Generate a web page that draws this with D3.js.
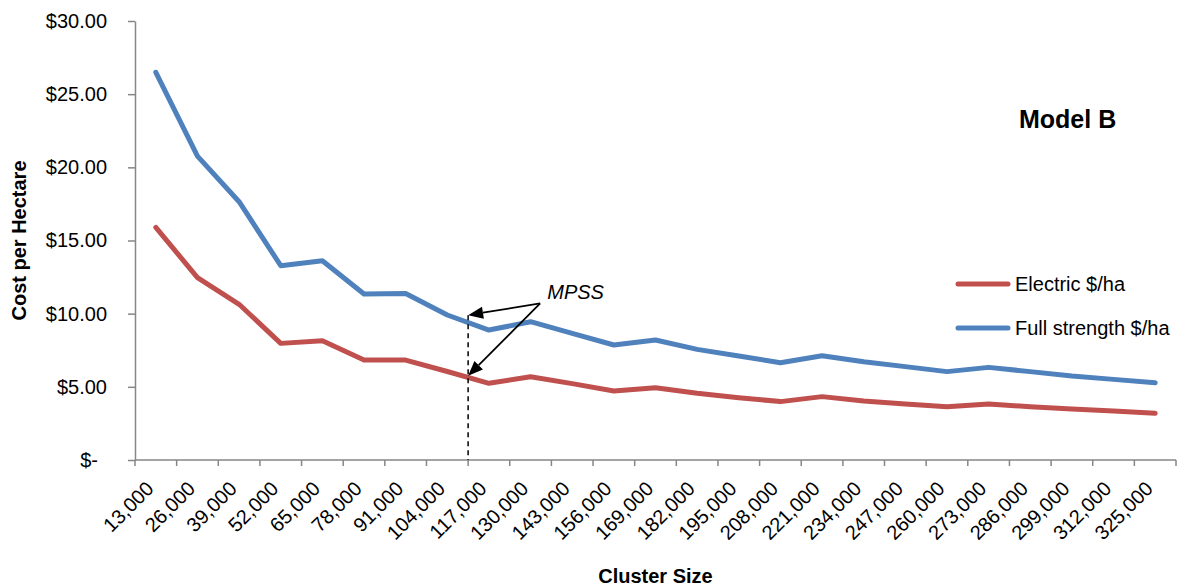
<!DOCTYPE html>
<html>
<head>
<meta charset="utf-8">
<script src="https://cdn.jsdelivr.net/npm/d3@7"></script>
<style>
  html, body { margin: 0; padding: 0; background: #fff; }
  svg { display: block; font-family: "Liberation Sans", Arial, sans-serif; }
</style>
</head>
<body>
<svg id="chart" width="1186" height="588"></svg>
<script>
// Cluster sizes (x categories)
const clusterSizes = [13000, 26000, 39000, 52000, 65000, 78000, 91000, 104000, 117000, 130000,
  143000, 156000, 169000, 182000, 195000, 208000, 221000, 234000, 247000, 260000,
  273000, 286000, 299000, 312000, 325000];

// Cost per hectare, electric
const electricCost = [15.90, 12.46, 10.64, 7.97, 8.15, 6.83, 6.83, 6.05, 5.24, 5.69,
  5.22, 4.72, 4.94, 4.56, 4.26, 3.99, 4.33, 4.03, 3.83, 3.64,
  3.83, 3.64, 3.48, 3.35, 3.19];

// Cost per hectare, full strength
const fullStrengthCost = [26.49, 20.77, 17.65, 13.28, 13.62, 11.34, 11.38, 9.91, 8.88, 9.45,
  8.65, 7.86, 8.20, 7.56, 7.11, 6.65, 7.13, 6.72, 6.38, 6.04,
  6.33, 6.04, 5.74, 5.51, 5.28];

const yTicks = [0, 5, 10, 15, 20, 25, 30];
const seriesNames = ["Electric $/ha", "Full strength $/ha"];
const seriesColors = ["#C0504D", "#4F81BD"];

// MPSS marker: boundary index on the category axis and values in $/ha
const mpssBoundary = 8;
const mpssTips = [9.9, 5.75];

const plot = { left: 135, right: 1176, top: 21, bottom: 460 };
const axisColor = "#868686";

const svg = d3.select("#chart");

const x = d3.scaleBand().domain(clusterSizes).range([plot.left, plot.right]).padding(0);
const xb = d3.scaleLinear().domain([0, clusterSizes.length]).range([plot.left, plot.right]);
const y = d3.scaleLinear().domain([0, 30]).range([plot.bottom, plot.top]);
const cx = d => x(d) + x.bandwidth() / 2;

const fmtX = d3.format(",");
const fmtY = v => v === 0 ? "$-" : "$" + d3.format(".2f")(v);

// Y axis
const yAxis = svg.append("g")
  .attr("transform", `translate(${plot.left},0)`)
  .call(d3.axisLeft(y).tickValues(yTicks).tickSize(7).tickSizeOuter(0).tickPadding(21).tickFormat(fmtY));
yAxis.select(".domain").attr("stroke", axisColor).attr("stroke-width", 1.5);
yAxis.selectAll(".tick line").attr("stroke", axisColor).attr("stroke-width", 1.5);
yAxis.selectAll(".tick text")
  .attr("font-size", 20).attr("fill", "#000")
  .attr("font-family", "'Liberation Sans', Arial, sans-serif")
  .attr("dx", d => d === 0 ? -9 : 0);

// X axis line and ticks between categories
const xAxis = svg.append("g");
xAxis.append("line")
  .attr("x1", plot.left).attr("x2", plot.right)
  .attr("y1", y(0)).attr("y2", y(0))
  .attr("stroke", axisColor).attr("stroke-width", 1.5);
xAxis.selectAll("line.tk")
  .data(d3.range(clusterSizes.length + 1))
  .join("line")
  .attr("class", "tk")
  .attr("x1", i => xb(i)).attr("x2", i => xb(i))
  .attr("y1", y(0)).attr("y2", y(0) + 6)
  .attr("stroke", axisColor).attr("stroke-width", 1.5);
xAxis.selectAll("text.xl")
  .data(clusterSizes)
  .join("text")
  .attr("class", "xl")
  .attr("transform", d => `translate(${cx(d) - 1},490) rotate(-45)`)
  .attr("text-anchor", "end")
  .attr("font-size", 20)
  .text(fmtX);

// Axis titles
svg.append("text")
  .attr("x", (plot.left + plot.right) / 2).attr("y", 583)
  .attr("text-anchor", "middle")
  .attr("font-size", 20).attr("font-weight", "bold")
  .text("Cluster Size");
svg.append("text")
  .attr("transform", `translate(26,${(plot.top + plot.bottom) / 2}) rotate(-90)`)
  .attr("text-anchor", "middle")
  .attr("font-size", 20).attr("font-weight", "bold")
  .text("Cost per Hectare");

// Series lines
const line = d3.line()
  .x((d, i) => cx(clusterSizes[i]))
  .y(d => y(d));
[electricCost, fullStrengthCost].forEach((vals, k) => {
  svg.append("path")
    .datum(vals)
    .attr("d", line)
    .attr("fill", "none")
    .attr("stroke", seriesColors[k])
    .attr("stroke-width", 5)
    .attr("stroke-linejoin", "round")
    .attr("stroke-linecap", "round");
});

// Chart label
svg.append("text")
  .attr("x", 1019).attr("y", 128)
  .attr("font-size", 25).attr("font-weight", "bold")
  .text("Model B");

// Legend
const legend = svg.append("g");
seriesNames.forEach((name, k) => {
  const ly = 284 + k * 44;
  legend.append("line")
    .attr("x1", 958).attr("x2", 1008).attr("y1", ly).attr("y2", ly)
    .attr("stroke", seriesColors[k]).attr("stroke-width", 5)
    .attr("stroke-linecap", "round");
  legend.append("text")
    .attr("x", 1015).attr("y", ly + 7)
    .attr("font-size", 20)
    .text(name);
});

// MPSS annotation: dashed drop line and two arrows
const mx = xb(mpssBoundary);
svg.append("line")
  .attr("x1", mx).attr("x2", mx)
  .attr("y1", y(mpssTips[0])).attr("y2", y(0))
  .attr("stroke", "#000").attr("stroke-width", 1.5)
  .attr("stroke-dasharray", "5,4");

const origin = [xb(9.73), y(10.7)];
const headLen = 15, headHalf = 6;
mpssTips.forEach(v => {
  const tip = [mx, y(v)];
  const dx = tip[0] - origin[0], dy = tip[1] - origin[1];
  const len = Math.hypot(dx, dy);
  const ux = dx / len, uy = dy / len;
  const base = [tip[0] - ux * headLen, tip[1] - uy * headLen];
  svg.append("line")
    .attr("x1", origin[0]).attr("y1", origin[1])
    .attr("x2", base[0]).attr("y2", base[1])
    .attr("stroke", "#000").attr("stroke-width", 1.8);
  svg.append("path")
    .attr("d", `M${tip[0]},${tip[1]}L${base[0] - uy * headHalf},${base[1] + ux * headHalf}L${base[0] + uy * headHalf},${base[1] - ux * headHalf}Z`)
    .attr("fill", "#000");
});
svg.append("text")
  .attr("x", xb(9.9)).attr("y", y(11.0))
  .attr("font-size", 20).attr("font-style", "italic")
  .text("MPSS");
</script>
</body>
</html>
